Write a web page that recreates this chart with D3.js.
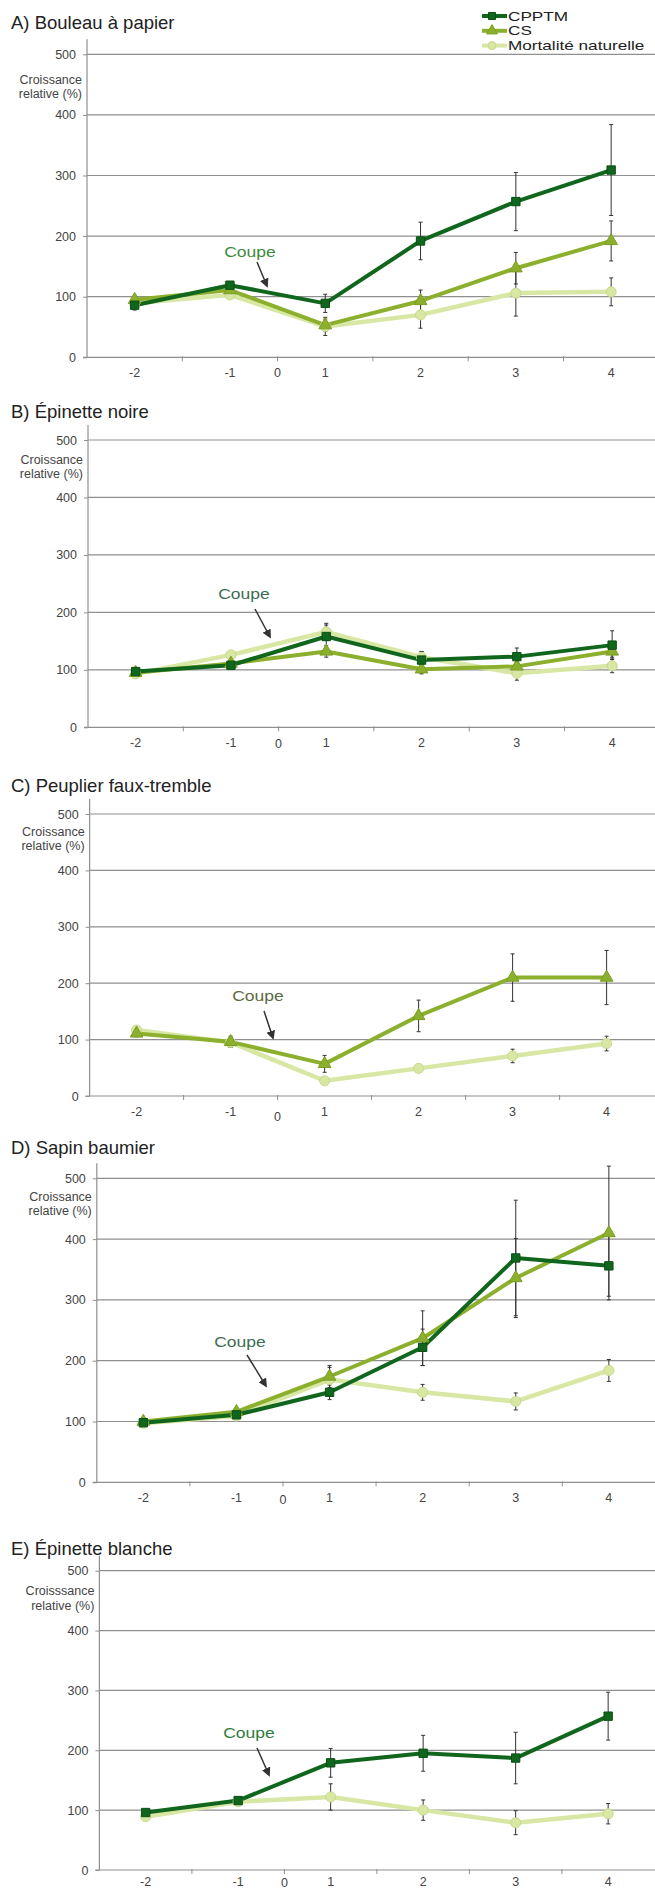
<!DOCTYPE html>
<html>
<head>
<meta charset="utf-8">
<script src="https://cdn.jsdelivr.net/npm/d3@7"></script>
<style>
  body { margin: 0; background: #fff; }
  svg { display: block; font-family: "Liberation Sans", Arial, sans-serif; }
</style>
</head>
<body>
<svg id="chart" width="655" height="1891"></svg>
<script>
// --- data ---
const categories = ['-2', '-1', '1', '2', '3', '4'];
const titles = ['A) Bouleau à papier', 'B) Épinette noire', 'C) Peuplier faux-tremble', 'D) Sapin baumier', 'E) Épinette blanche'];
const yTicks = [0, 100, 200, 300, 400, 500];
const yLabels = [
  ['Croissance', 'relative (%)'],
  ['Croissance', 'relative (%)'],
  ['Croissance', 'relative (%)'],
  ['Croissance', 'relative (%)'],
  ['Croisssance', 'relative (%)'],
];
const seriesNames = ['CPPTM', 'CS', 'Mortalité naturelle'];

// one row per panel, null when the treatment is absent
const cpptmValues = [
  [86, 119, 89, 192, 257, 309],
  [97, 108, 158, 117, 123, 143],
  null,
  [98, 111, 148, 222, 369, 356],
  [96, 116, 179, 195, 187, 257],
];
const cpptmErrors = [
  [8, 5, 15, 31, 48, 75],
  [5, 5, 20, 15, 15, 25],
  null,
  [5, 5, 12, 30, 95, 50],
  [5, 5, 24, 30, 43, 40],
];
const csValues = [
  [95, 111, 53, 93, 147, 192],
  [95, 111, 132, 101, 106, 132],
  [111, 96, 57, 142, 210, 210],
  [100, 116, 174, 237, 336, 410],
  null,
];
const csErrors = [
  [5, 5, 10, 18, 26, 33],
  [4, 5, 10, 8, 8, 10],
  [6, 10, 15, 28, 42, 48],
  [5, 5, 18, 45, 65, 110],
  null,
];
const mortValues = [
  [89, 103, 51, 70, 106, 108],
  [93, 126, 166, 122, 94, 107],
  [117, 95, 27, 49, 71, 93],
  [97, 109, 169, 148, 133, 184],
  [89, 114, 122, 100, 79, 94],
];
const mortErrors = [
  [5, 5, 15, 22, 38, 23],
  [4, 6, 15, 10, 12, 12],
  [5, 8, 6, 6, 12, 13],
  [4, 5, 20, 13, 14, 18],
  [5, 5, 22, 17, 20, 17],
];

// --- layout of each panel (pixels) ---
const panels = [
  { x0: 87, step: 95.3, y0: 357.3, y500: 54.3, titleY: 29, labelDy: 25, zeroDy: 0, xLabelDy: 20,
    coupe: [250, 252, 257, 262, 267, 286], coupeColor: '#3e8a3c' },
  { x0: 88, step: 95.3, y0: 727.3, y500: 440, titleY: 418, labelDy: 19, zeroDy: 1, xLabelDy: 20,
    coupe: [244, 594, 255, 609, 270, 637], coupeColor: '#3d6e55' },
  { x0: 89.6, step: 94, y0: 1096, y500: 814, titleY: 792, labelDy: 17, zeroDy: 5, xLabelDy: 20,
    coupe: [258, 996, 264, 1011, 273, 1038], coupeColor: '#5b6b42' },
  { x0: 96.8, step: 93.1, y0: 1482.3, y500: 1178.3, titleY: 1154, labelDy: 18, zeroDy: 2, xLabelDy: 20,
    coupe: [240, 1342, 247, 1355, 266, 1386], coupeColor: '#3d6e55' },
  { x0: 99.4, step: 92.5, y0: 1870, y500: 1570.7, titleY: 1555, labelDy: 20, zeroDy: 1, xLabelDy: 16,
    coupe: [249, 1733, 257, 1748, 269, 1775], coupeColor: '#2e7d3a' },
];

const W = 655;
const colors = { cpptm: '#11661d', cs: '#8cb02e', mort: '#d8e7a4' };
const gridColor = '#8f8f8f';

const svg = d3.select('#chart');

svg.append('defs').append('marker')
  .attr('id', 'arrow')
  .attr('viewBox', '0 0 10 10')
  .attr('refX', 8).attr('refY', 5)
  .attr('markerWidth', 6).attr('markerHeight', 6)
  .attr('orient', 'auto-start-reverse')
  .append('path')
  .attr('d', 'M0,0 L10,5 L0,10 z')
  .attr('fill', '#333');

// stretch text horizontally, the scanned figure has wide lettering
function stretch(sel, f) {
  sel.each(function () {
    const w = this.getComputedTextLength();
    d3.select(this).attr('textLength', w * f).attr('lengthAdjust', 'spacingAndGlyphs');
  });
}

panels.forEach((p, k) => {
  const g = svg.append('g').attr('class', 'panel');
  const x = d3.scaleBand().domain(categories).range([p.x0, p.x0 + 6 * p.step]);
  const y = d3.scaleLinear().domain([0, 500]).range([p.y0, p.y500]);
  const cx = (c) => x(c) + x.bandwidth() / 2;

  // title
  g.append('text')
    .attr('x', 11).attr('y', p.titleY)
    .attr('font-size', 18.5)
    .attr('fill', '#222')
    .text(titles[k]);

  // horizontal gridlines
  g.selectAll('.grid')
    .data(yTicks.slice(1))
    .join('line')
    .attr('class', 'grid')
    .attr('x1', p.x0).attr('x2', W)
    .attr('y1', (d) => y(d)).attr('y2', (d) => y(d))
    .attr('stroke', gridColor).attr('stroke-width', 1.2);

  // y axis
  const yAxis = d3.axisLeft(y).tickValues(yTicks).tickSize(4).tickSizeOuter(0).tickPadding(7);
  const ya = g.append('g').attr('transform', `translate(${p.x0},0)`).call(yAxis);
  ya.select('.domain').remove();
  ya.selectAll('line').attr('stroke', gridColor);
  ya.selectAll('text')
    .attr('font-size', 12.5)
    .attr('font-family', '"Liberation Sans", Arial, sans-serif')
    .attr('fill', '#444');
  g.append('line')
    .attr('x1', p.x0).attr('x2', p.x0)
    .attr('y1', y(500) - 15).attr('y2', y(0))
    .attr('stroke', gridColor).attr('stroke-width', 1.2);

  // axis title, two lines under the 500 tick
  g.append('text')
    .attr('text-anchor', 'end')
    .attr('font-size', 12.5)
    .attr('fill', '#444')
    .selectAll('tspan')
    .data(yLabels[k])
    .join('tspan')
    .attr('x', p.x0 - 5)
    .attr('y', (d, i) => y(500) + p.labelDy + 4.5 + i * 14.3)
    .text((d) => d);

  // x axis
  g.append('line')
    .attr('x1', p.x0 - 4).attr('x2', W)
    .attr('y1', y(0)).attr('y2', y(0))
    .attr('stroke', gridColor).attr('stroke-width', 1.2);
  g.selectAll('.xtick')
    .data(categories.slice(1))
    .join('line')
    .attr('class', 'xtick')
    .attr('x1', (d) => x(d)).attr('x2', (d) => x(d))
    .attr('y1', y(0) - 1).attr('y2', y(0) + 4)
    .attr('stroke', gridColor);
  g.selectAll('.xlabel')
    .data(categories)
    .join('text')
    .attr('class', 'xlabel')
    .attr('x', (d) => cx(d))
    .attr('y', y(0) + p.xLabelDy)
    .attr('text-anchor', 'middle')
    .attr('font-size', 12.5)
    .attr('fill', '#444')
    .text((d) => d);
  // the cut, year 0, sits between -1 and 1
  g.append('text')
    .attr('x', x('1'))
    .attr('y', y(0) + p.xLabelDy + p.zeroDy)
    .attr('text-anchor', 'middle')
    .attr('font-size', 12.5)
    .attr('fill', '#444')
    .text('0');

  const series = [
    { key: 'mort', values: mortValues[k], errors: mortErrors[k], symbol: d3.symbolCircle, size: 80, width: 4.5, stroke: '#c9d98e' },
    { key: 'cs', values: csValues[k], errors: csErrors[k], symbol: d3.symbolTriangle, size: 70, width: 4, stroke: '#7a9d22' },
    { key: 'cpptm', values: cpptmValues[k], errors: cpptmErrors[k], symbol: d3.symbolSquare, size: 70, width: 4, stroke: '#0a4f14' },
  ].filter((s) => s.values);

  const line = d3.line()
    .x((d, i) => cx(categories[i]))
    .y((d) => y(d));

  series.forEach((s) => {
    g.append('path')
      .datum(s.values)
      .attr('d', line)
      .attr('fill', 'none')
      .attr('stroke', colors[s.key])
      .attr('stroke-width', s.width)
      .attr('stroke-linejoin', 'round');
  });

  // error bars
  series.forEach((s) => {
    const eb = g.append('g').attr('stroke', '#333').attr('stroke-width', 1);
    s.values.forEach((v, i) => {
      const xc = cx(categories[i]);
      const lo = y(v - s.errors[i]);
      const hi = y(v + s.errors[i]);
      eb.append('line').attr('x1', xc).attr('x2', xc).attr('y1', lo).attr('y2', hi);
      eb.append('line').attr('x1', xc - 2).attr('x2', xc + 2).attr('y1', lo).attr('y2', lo);
      eb.append('line').attr('x1', xc - 2).attr('x2', xc + 2).attr('y1', hi).attr('y2', hi);
    });
  });

  // markers
  series.forEach((s) => {
    g.selectAll(`.m-${s.key}`)
      .data(s.values)
      .join('path')
      .attr('class', `m-${s.key}`)
      .attr('d', d3.symbol().type(s.symbol).size(s.size))
      .attr('transform', (d, i) => `translate(${cx(categories[i])},${y(d)})`)
      .attr('fill', colors[s.key])
      .attr('stroke', s.stroke)
      .attr('stroke-width', 1);
  });

  // "Coupe" annotation with arrow
  const [tx, ty, ax1, ay1, ax2, ay2] = p.coupe;
  g.append('text')
    .attr('x', tx).attr('y', ty + 5)
    .attr('text-anchor', 'middle')
    .attr('font-size', 14)
    .attr('fill', p.coupeColor)
    .text('Coupe')
    .call(stretch, 1.25);
  g.append('line')
    .attr('x1', ax1).attr('y1', ay1)
    .attr('x2', ax2).attr('y2', ay2)
    .attr('stroke', '#333').attr('stroke-width', 1.5)
    .attr('marker-end', 'url(#arrow)');
});

// legend, top right of the first panel
const legend = svg.append('g').attr('class', 'legend');
const legendKeys = [
  { name: seriesNames[0], key: 'cpptm', symbol: d3.symbolSquare, stroke: '#0a4f14' },
  { name: seriesNames[1], key: 'cs', symbol: d3.symbolTriangle, stroke: '#7a9d22' },
  { name: seriesNames[2], key: 'mort', symbol: d3.symbolCircle, stroke: '#c9d98e' },
];
legendKeys.forEach((d, i) => {
  const ly = 16 + i * 14.8;
  legend.append('line')
    .attr('x1', 482).attr('x2', 507)
    .attr('y1', ly).attr('y2', ly)
    .attr('stroke', colors[d.key]).attr('stroke-width', 4);
  legend.append('path')
    .attr('d', d3.symbol().type(d.symbol).size(50))
    .attr('transform', `translate(492,${ly})`)
    .attr('fill', colors[d.key])
    .attr('stroke', d.stroke);
  legend.append('text')
    .attr('x', 508).attr('y', ly + 4.6)
    .attr('font-size', 13)
    .attr('fill', '#222')
    .text(d.name)
    .call(stretch, 1.32);
});
</script>
</body>
</html>
